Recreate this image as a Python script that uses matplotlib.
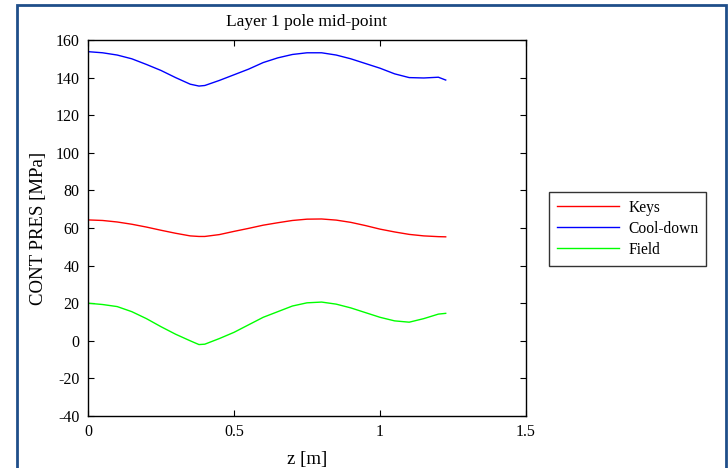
import matplotlib
matplotlib.use('Agg')
import matplotlib.pyplot as plt
from matplotlib.patches import Rectangle
import numpy as np

plt.rcParams['font.family'] = ['Liberation Serif', 'DejaVu Serif']
plt.rcParams['axes.unicode_minus'] = False

# z positions along the pole [m]
z = [0, 0.05, 0.1, 0.15, 0.2, 0.25, 0.3, 0.35, 0.38, 0.4, 0.45, 0.5, 0.55, 0.6,
     0.65, 0.7, 0.75, 0.8, 0.85, 0.9, 0.95, 1.0, 1.05, 1.1, 1.15, 1.2, 1.225]

keys = [64.3, 64.0, 63.2, 62.0, 60.5, 58.8, 57.2, 55.8, 55.5, 55.5, 56.5, 58.2, 59.8, 61.5,
        62.8, 64.0, 64.7, 64.8, 64.2, 63.0, 61.3, 59.4, 57.9, 56.6, 55.8, 55.4, 55.3]
cooldown = [153.8, 153.2, 152.0, 150.0, 147.0, 143.8, 140.0, 136.5, 135.5, 135.8, 138.5, 141.5, 144.5, 148.0,
            150.5, 152.3, 153.2, 153.2, 152.0, 150.0, 147.5, 145.0, 142.0, 140.0, 139.8, 140.2, 138.7]
field = [20.0, 19.3, 18.2, 15.5, 11.8, 7.5, 3.5, 0.0, -2.0, -1.8, 1.2, 4.5, 8.5, 12.5,
         15.5, 18.5, 20.2, 20.6, 19.5, 17.5, 15.0, 12.5, 10.6, 9.9, 11.8, 14.2, 14.6]

fig = plt.figure(figsize=(7.28, 4.68), dpi=100)
ax = fig.add_axes([88/728, 52/468, 438/728, 376/468])

ax.plot(z, keys, color='#ff0000', lw=1.0, label='Keys')
ax.plot(z, cooldown, color='#0000ff', lw=1.0, label='Cool-down')
ax.plot(z, field, color='#00ff00', lw=1.0, label='Field')

ax.set_xlim(0, 1.5)
ax.set_ylim(-40, 160)
ax.set_xticks([0, 0.5, 1, 1.5])
ax.set_xticklabels(['0', '0.5', '1', '1.5'])
ax.set_yticks(np.arange(-40, 161, 20))
ax.tick_params(direction='in', top=True, right=True, length=4, labelsize=11.5, pad=6)
for s in ax.spines.values():
    s.set_linewidth(1.0)

ax.set_title('Layer 1 pole mid-point', fontsize=12.5, pad=10)
ax.set_xlabel('z [m]', fontsize=13.5, labelpad=8)
ax.set_ylabel('CONT PRES [MPa]', fontsize=13.5, labelpad=6)

leg = ax.legend(loc='upper left', bbox_to_anchor=(549/728, (468-192)/468),
                bbox_transform=fig.transFigure, fontsize=11.2, frameon=True,
                fancybox=False, edgecolor='black', borderpad=0.5,
                handlelength=4.0, handletextpad=0.6, labelspacing=0.32,
                borderaxespad=0)
leg.get_frame().set_linewidth(1.0)

# outer blue frame
fig.patches.append(Rectangle((17/728, -0.05), 709/728, 1.05 - 5/468, transform=fig.transFigure,
                             fill=False, edgecolor='#1f4e8a', lw=2.0))

fig.savefig('out.png', dpi=100)
